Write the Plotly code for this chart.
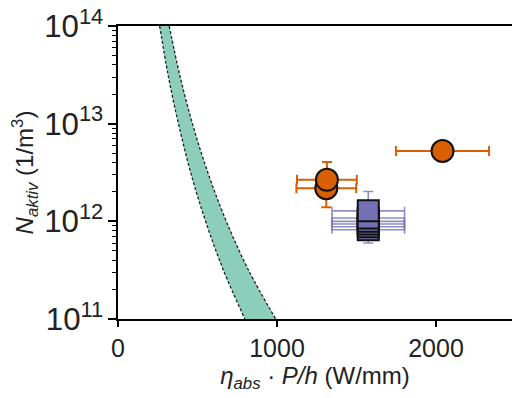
import plotly.graph_objects as go

# Band edges
band_n = [1e14, 3.16e13, 1e13, 3.16e12, 1e12, 3.16e11, 1e11]
band_lo_x = [262, 315, 380, 457, 551, 663, 798]
band_hi_x = [322, 388, 468, 565, 681, 821, 992]

# Orange circles
circ_x = [1310, 1314, 2041]
circ_n = [2.18e12, 2.66e12, 5.25e12]
circ_xerr = [188, 188, 293]
circ_nerr_plus = [0.3e12, 1.38e12, 0.0]
circ_nerr_minus = [0.79e12, 0.5e12, 0.0]

# Purple squares
sq_x = [1574, 1574, 1574, 1574, 1574, 1574]
sq_n = [0.82e12, 0.88e12, 0.94e12, 1.0e12, 1.08e12, 1.28e12]
sq_xerr = [228, 228, 228, 228, 228, 228]
sq_nerr_plus = [0, 0, 0, 1.02e12, 0, 0]
sq_nerr_minus = [0, 0, 0, 0.4e12, 0, 0]

ORANGE = "#d95f02"
PURPLE = "#7570b3"
FONT = "Liberation Sans, Arial, sans-serif"

fig = go.Figure()

# band fill
fig.add_trace(go.Scatter(x=band_lo_x, y=band_n, mode="lines",
                         line=dict(width=0, shape="spline"), showlegend=False,
                         hoverinfo="skip"))
fig.add_trace(go.Scatter(x=band_hi_x, y=band_n, mode="lines",
                         line=dict(width=0, shape="spline"), fill="tonexty",
                         fillcolor="rgba(27,158,119,0.5)", showlegend=False,
                         hoverinfo="skip"))
# dashed edges
for xs in [band_lo_x, band_hi_x]:
    fig.add_trace(go.Scatter(x=xs, y=band_n, mode="lines",
                             line=dict(color="#1a2420", width=1.3, dash="3px,2px",
                                       shape="spline"),
                             showlegend=False, hoverinfo="skip"))

# purple squares
fig.add_trace(go.Scatter(
    x=sq_x, y=sq_n, mode="markers",
    marker=dict(symbol="square", size=21, color=PURPLE,
                line=dict(color="#111111", width=2)),
    error_x=dict(type="data", array=sq_xerr, color="rgba(117,112,179,0.8)",
                 thickness=1.6, width=4),
    error_y=dict(type="data", symmetric=False, array=sq_nerr_plus,
                 arrayminus=sq_nerr_minus, color="rgba(117,112,179,0.8)",
                 thickness=1.6, width=5),
    showlegend=False))

# orange circles
fig.add_trace(go.Scatter(
    x=circ_x, y=circ_n, mode="markers",
    marker=dict(symbol="circle", size=22, color=ORANGE,
                line=dict(color="#111111", width=2)),
    error_x=dict(type="data", array=circ_xerr, color=ORANGE, thickness=2, width=5),
    error_y=dict(type="data", symmetric=False, array=circ_nerr_plus,
                 arrayminus=circ_nerr_minus, color=ORANGE, thickness=2, width=5),
    showlegend=False))

fig.update_layout(
    width=512, height=398,
    margin=dict(l=118, r=0, t=26, b=79),
    paper_bgcolor="white", plot_bgcolor="white",
    font=dict(family=FONT, size=25, color="#222222"),
    xaxis=dict(range=[0, 2478], tickvals=[0, 1000, 2000],
               ticktext=["0", "1000", "2000"],
               showline=True, linecolor="black", linewidth=1.5, mirror=True,
               ticks="outside", ticklen=6, tickwidth=1.5, tickcolor="black",
               showgrid=False, zeroline=False,
               title=dict(text="<i>η</i><sub><i>abs</i></sub> · <i>P/h</i> (W/mm)",
                          font=dict(size=24), standoff=6)),
    yaxis=dict(type="log", range=[11, 14], dtick=1, exponentformat="power",
               showline=True, linecolor="black", linewidth=1.5,
               ticks="outside", ticklen=8, tickwidth=1.5, tickcolor="black",
               minor=dict(ticks="outside", ticklen=4, tickwidth=1,
                          tickcolor="black", dtick="D1", showgrid=False),
               showgrid=False, zeroline=False,
               title=dict(text="<i>N</i><sub><i>aktiv</i></sub> (1/m<sup>3</sup>)",
                          font=dict(size=24), standoff=4)),
)

fig.write_html("out.html")
